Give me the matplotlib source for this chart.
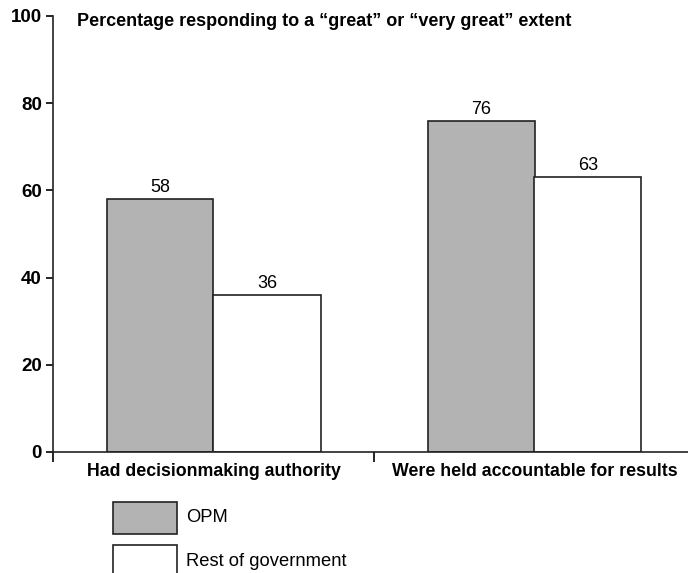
import numpy as np
import matplotlib
matplotlib.use("Agg")
import matplotlib.pyplot as plt
from matplotlib.patches import Rectangle

plt.rcParams['font.family'] = ['Liberation Sans', 'DejaVu Sans']

# data
categories = ['Had decisionmaking authority', 'Were held accountable for results']
opm = [58, 76]
rest = [36, 63]
series_names = ['OPM', 'Rest of government']

gray = '#b3b3b3'
edge = '#222222'

fig = plt.figure(figsize=(6.88, 5.73), dpi=100)
ax = fig.add_axes([53/688, 121/573, 642/688, 436/573])

x = np.arange(len(categories))
w = 1/3
b1 = ax.bar(x - w/2, opm, w, color=gray, edgecolor=edge, linewidth=1.2)
b2 = ax.bar(x + w/2, rest, w, color='white', edgecolor=edge, linewidth=1.2)

for bars, vals in [(b1, opm), (b2, rest)]:
    for bar, v in zip(bars, vals):
        ax.text(bar.get_x() + bar.get_width()/2, v + 0.7, str(v),
                ha='center', va='bottom', fontsize=13)

ax.set_xlim(-0.5, 1.5)
ax.set_ylim(0, 100)
ax.set_yticks([0, 20, 40, 60, 80, 100])
ax.set_xticks([-0.5, 0.5, 1.5])
ax.set_xticklabels([])
for lab in ax.get_yticklabels():
    lab.set_fontweight('bold')
ax.tick_params(axis='y', labelsize=13.5, length=5, width=1.2, direction='out', pad=3)
ax.tick_params(axis='x', length=7, width=1.2, direction='out')

for i, c in enumerate(categories):
    ax.text(i, -2.6, c, ha='center', va='top', fontsize=12.8, fontweight='bold')

ax.spines['top'].set_visible(False)
ax.spines['right'].set_visible(False)
ax.spines['left'].set_linewidth(1.2)
ax.spines['bottom'].set_linewidth(1.2)
ax.spines['left'].set_color(edge)
ax.spines['bottom'].set_color(edge)

fig.text(77/688, 1 - 21/573, 'Percentage responding to a \u201cgreat\u201d or \u201cvery great\u201d extent',
         ha='left', va='center', fontsize=13, fontweight='bold')

# legend
fig.patches.append(Rectangle((113/688, 1 - 534/573), 64/688, 32/573,
                             transform=fig.transFigure, facecolor=gray,
                             edgecolor=edge, linewidth=1.2))
fig.patches.append(Rectangle((113/688, 1 - 577/573), 64/688, 32/573,
                             transform=fig.transFigure, facecolor='white',
                             edgecolor=edge, linewidth=1.2))
fig.text(186/688, 1 - 518/573, series_names[0], ha='left', va='center', fontsize=13.2)
fig.text(186/688, 1 - 562/573, series_names[1], ha='left', va='center', fontsize=13.2)

fig.savefig('out.png', dpi=100)
